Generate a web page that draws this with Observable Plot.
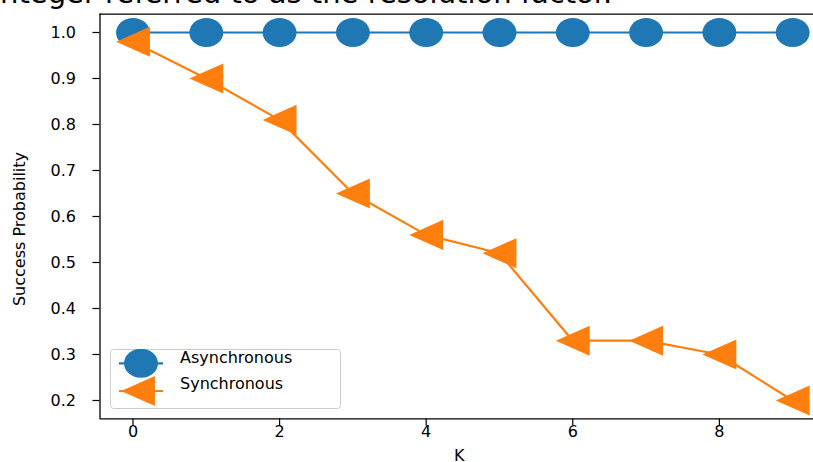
<!DOCTYPE html>
<html><head><meta charset="utf-8">
<script src="https://cdn.jsdelivr.net/npm/d3@7"></script>
<script src="https://cdn.jsdelivr.net/npm/@observablehq/plot@0.6"></script>
<style>
html,body{margin:0;padding:0;background:#fff;}
body{width:813px;height:462px;overflow:hidden;position:relative;font-family:"DejaVu Sans",sans-serif;}
#chart{position:absolute;left:0;top:0;}
#title{position:absolute;left:-8px;top:-21px;font-size:29px;line-height:29px;white-space:nowrap;color:#000;font-family:"DejaVu Sans";}
#legend{position:absolute;left:110px;top:349px;}
.axlabel{position:absolute;font-size:16px;line-height:16px;white-space:nowrap;color:#000;font-family:"DejaVu Sans";transform-origin:center center;}
</style></head><body>
<div id="chart"></div>
<div id="title">integer referred to as the resolution factor.</div>
<div id="legend"></div>
<div id="ylab" class="axlabel"></div>
<div id="xlab" class="axlabel"></div>
<script>
// ---- data ----
const K = [0, 1, 2, 3, 4, 5, 6, 7, 8, 9];
const asyncProb = [1.0, 1.0, 1.0, 1.0, 1.0, 1.0, 1.0, 1.0, 1.0, 1.0];
const syncProb = [0.98, 0.90, 0.81, 0.65, 0.56, 0.52, 0.33, 0.33, 0.30, 0.20];
const seriesNames = ["Asynchronous", "Synchronous"];
const seriesColors = ["#1f77b4", "#ff7f0e"];
const xTicks = [0, 2, 4, 6, 8];
const yTicks = [0.2, 0.3, 0.4, 0.5, 0.6, 0.7, 0.8, 0.9, 1.0];
const xDomain = [-0.45, 9.45];
const yDomain = [0.16, 1.04];
const xLabel = "K";
const yLabel = "Success Probability";

const asyncData = K.map((k, i) => ({k, p: asyncProb[i]}));
const syncData = K.map((k, i) => ({k, p: syncProb[i]}));

// custom symbols (matplotlib-like markers)
const ellipse = {
  draw(ctx, size) {
    const r = Math.sqrt(size / Math.PI);
    const rx = r * 1.06, ry = r * 0.91, c = 0.5523;
    ctx.moveTo(rx, 0);
    ctx.bezierCurveTo(rx, ry * c, rx * c, ry, 0, ry);
    ctx.bezierCurveTo(-rx * c, ry, -rx, ry * c, -rx, 0);
    ctx.bezierCurveTo(-rx, -ry * c, -rx * c, -ry, 0, -ry);
    ctx.bezierCurveTo(rx * c, -ry, rx, -ry * c, rx, 0);
    ctx.closePath();
  }
};
const triLeft = {
  draw(ctx, size) {
    const r = Math.sqrt(size / Math.PI);
    const a = r * 1.06, b = r * 0.94;
    ctx.moveTo(-a, 0);
    ctx.lineTo(a, -b);
    ctx.lineTo(a, b);
    ctx.closePath();
  }
};

const W = 813, H = 462;
const mLeft = 99.5, mTop = 13.6, mBottom = 418.4;
const xRight = mLeft + (xDomain[1] - xDomain[0]) * 73.3;

const chart = Plot.plot({
  width: W, height: H,
  marginLeft: mLeft, marginRight: 0, marginTop: mTop, marginBottom: H - mBottom,
  style: {fontFamily: "DejaVu Sans", background: "#fff", overflow: "hidden"},
  x: {domain: xDomain, range: [mLeft, xRight]},
  y: {domain: yDomain},
  marks: [
    Plot.axisX({ticks: xTicks, tickSize: 7, tickPadding: 0, fontSize: 16, label: null, stroke: "#000", strokeWidth: 1.2, color: "#000"}),
    Plot.axisY({ticks: yTicks, tickSize: 7, tickPadding: 17, fontSize: 16, label: null, tickFormat: d3.format(".1f"), stroke: "#000", strokeWidth: 1.2, color: "#000"}),
    Plot.ruleY([yDomain[0], yDomain[1]], {x1: xDomain[0], x2: xDomain[1], stroke: "#000", strokeWidth: 1.3}),
    Plot.ruleX([xDomain[0]], {y1: yDomain[0], y2: yDomain[1], stroke: "#000", strokeWidth: 1.3}),
    Plot.line(asyncData, {x: "k", y: "p", stroke: seriesColors[0], strokeWidth: 2.2}),
    Plot.dot(asyncData, {x: "k", y: "p", r: 16, symbol: ellipse, fill: seriesColors[0], stroke: "none"}),
    Plot.line(syncData, {x: "k", y: "p", stroke: seriesColors[1], strokeWidth: 2.2}),
    Plot.dot(syncData, {x: "k", y: "p", r: 16, symbol: triLeft, fill: seriesColors[1], stroke: "none"})
  ]
});
document.getElementById("chart").appendChild(chart);

// axis labels (HTML, centred on given points)
function placeLabel(id, text, cx, cy, rot) {
  const el = document.getElementById(id);
  el.textContent = text;
  const w = el.offsetWidth, h = el.offsetHeight;
  el.style.left = (cx - w / 2) + "px";
  el.style.top = (cy - h / 2) + "px";
  if (rot) el.style.transform = `rotate(${rot}deg)`;
}
placeLabel("ylab", yLabel, 19.5, 228.5, -90);
placeLabel("xlab", xLabel, 459.5, 456, 0);

// legend
const lg = d3.select("#legend").append("svg").attr("width", 233).attr("height", 62);
lg.append("rect").attr("x", 0.5).attr("y", 0.5).attr("width", 230).attr("height", 59)
  .attr("rx", 3).attr("fill", "rgba(255,255,255,0.8)").attr("stroke", "#ccc");
const rows = [
  {name: seriesNames[0], color: seriesColors[0], sym: ellipse, my: 14.3, ty: 8, mx: 31},
  {name: seriesNames[1], color: seriesColors[1], sym: triLeft, my: 42, ty: 34, mx: 28}
];
for (const r of rows) {
  lg.append("line").attr("x1", 9).attr("x2", 53).attr("y1", r.my).attr("y2", r.my)
    .attr("stroke", r.color).attr("stroke-width", 2.2);
  lg.append("path").attr("transform", `translate(${r.mx},${r.my})`)
    .attr("d", d3.symbol(r.sym, Math.PI * 16 * 16)()).attr("fill", r.color);
  lg.append("text").attr("x", 70).attr("y", r.ty).attr("dy", "0.35em")
    .attr("font-size", 16).attr("font-family", "DejaVu Sans").text(r.name);
}
</script>
</body></html>
